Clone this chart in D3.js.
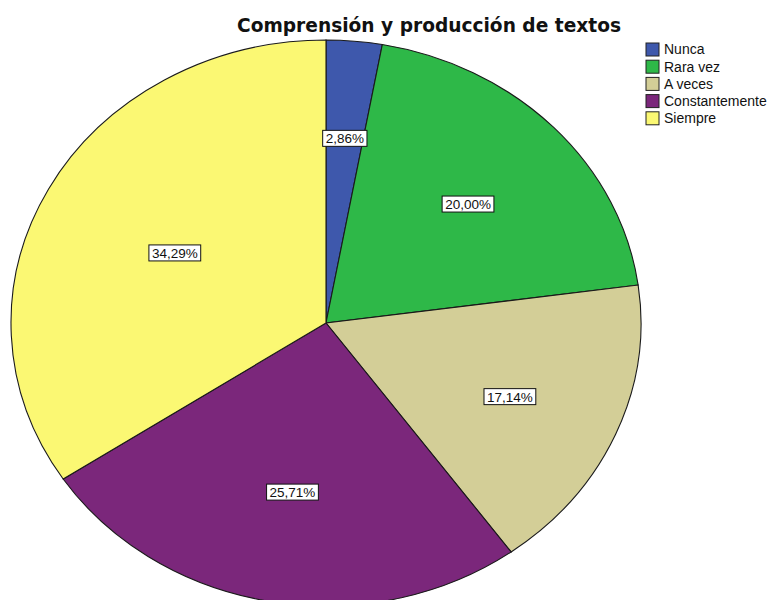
<!DOCTYPE html>
<html>
<head>
<meta charset="utf-8">
<script src="https://cdn.jsdelivr.net/npm/d3@7"></script>
<style>
  body { margin: 0; background: #fff; }
  text { font-family: "Liberation Sans", Arial, sans-serif; }
</style>
</head>
<body>
<svg id="chart"></svg>
<script>
// data
var categories = ['Nunca', 'Rara vez', 'A veces', 'Constantemente', 'Siempre'];
var percents = [2.86, 20.00, 17.14, 25.71, 34.29];
var labels = ['2,86%', '20,00%', '17,14%', '25,71%', '34,29%'];
var colors = ['#3e58ac', '#2eb848', '#d3ce97', '#7b277b', '#fbf873'];
var title = 'Comprensión y producción de textos';

var W = 772, H = 600;
var cx = 326, cy = 323;
var rx = 315, ry = 283;

var svg = d3.select('#chart')
  .attr('width', W)
  .attr('height', H);

svg.append('text')
  .attr('x', 429)
  .attr('y', 32)
  .attr('text-anchor', 'middle')
  .style('font-family', '"DejaVu Sans", sans-serif')
  .style('font-size', '18.6px')
  .style('font-weight', 'bold')
  .style('fill', '#111')
  .text(title);

var color = d3.scaleOrdinal().domain(categories).range(colors);

var data = categories.map(function(c, i) { return { cat: c, value: percents[i], label: labels[i] }; });

var pie = d3.pie()
  .sort(null)
  .value(function(d) { return d.value; });

var arcs = pie(data);

// circle of radius ry, stretched horizontally into an ellipse
var arc = d3.arc().innerRadius(0).outerRadius(ry);

var pieG = svg.append('g')
  .attr('transform', 'translate(' + cx + ',' + cy + ') scale(' + (rx / ry) + ',1)');

pieG.selectAll('path')
  .data(arcs)
  .enter()
  .append('path')
  .attr('d', arc)
  .attr('fill', function(d) { return color(d.data.cat); })
  .attr('stroke', '#1a1a1a')
  .attr('stroke-width', 1.1)
  .attr('vector-effect', 'non-scaling-stroke');

// labels at the centroid of each sector's area
var labelG = svg.append('g');
arcs.forEach(function(d) {
  var half = (d.endAngle - d.startAngle) / 2;
  var mid = d.startAngle + half;
  var f = (2 / 3) * Math.sin(half) / half;
  var x = cx + f * rx * Math.sin(mid);
  var y = cy - f * ry * Math.cos(mid) + 3;
  var g = labelG.append('g').attr('transform', 'translate(' + x + ',' + y + ')');
  var t = g.append('text')
    .attr('text-anchor', 'middle')
    .attr('dy', '0.36em')
    .style('font-size', '13.5px')
    .style('fill', '#111')
    .text(d.data.label);
  var bb = t.node().getBBox();
  g.insert('rect', 'text')
    .attr('x', bb.x - 3)
    .attr('y', -8)
    .attr('width', bb.width + 6)
    .attr('height', 16)
    .attr('fill', '#fff')
    .attr('stroke', '#111')
    .attr('stroke-width', 1);
});

// legend
var legend = svg.append('g').attr('transform', 'translate(646,43)');
var rows = legend.selectAll('g')
  .data(categories)
  .enter()
  .append('g')
  .attr('transform', function(d, i) { return 'translate(0,' + (i * 17.2) + ')'; });

rows.append('rect')
  .attr('width', 13)
  .attr('height', 13)
  .attr('fill', function(d) { return color(d); })
  .attr('stroke', '#222')
  .attr('stroke-width', 1);

rows.append('text')
  .attr('x', 18)
  .attr('y', 6.5)
  .attr('dy', '0.35em')
  .style('font-size', '14px')
  .style('fill', '#111')
  .text(function(d) { return d; });
</script>
</body>
</html>
